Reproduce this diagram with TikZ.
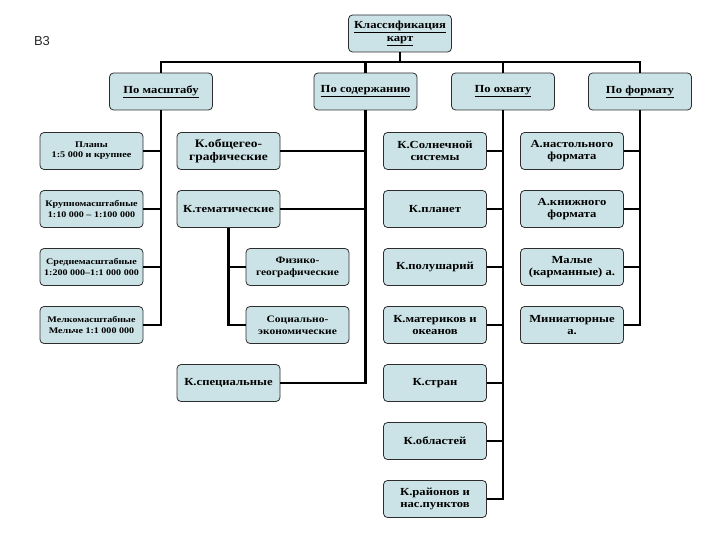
\documentclass[tikz,border=0pt]{standalone}
\usepackage{fontspec}
\setmainfont{Liberation Serif}[FakeStretch=1.17]
\newfontfamily\labfont{Liberation Sans}
\begin{document}
\begin{tikzpicture}[x=1pt,y=-1pt,
  box/.style={draw=boxline, fill=boxfill, rounded corners=4pt, line width=0.8pt,
    minimum width=103pt, minimum height=37pt, align=center, inner sep=1pt,
    font=\bfseries\fontsize{10.8}{12.5}\selectfont, text=black},
  conn/.style={line width=2.6pt, draw=black},
  small/.style={font=\bfseries\fontsize{8.7}{10}\selectfont},
  mid/.style={font=\bfseries\fontsize{8.6}{10.5}\selectfont},
  phys/.style={font=\bfseries\fontsize{9.8}{12}\selectfont},
  big/.style={font=\bfseries\fontsize{11.5}{13.5}\selectfont}]
\definecolor{boxfill}{RGB}{203,227,230}
\definecolor{boxline}{RGB}{45,45,45}
\useasboundingbox (0,0) rectangle (720,540);
\node[font=\labfont\fontsize{13}{15}\selectfont, text={rgb,255:red,40;green,40;blue,40}] (lab) at (42,41) {В3};
% level 1
\node[box] (top) at (400,33.5) {\underline{Классификация}\\\underline{карт}};
% level 2
\node[box] (m) at (161,91.5) {\underline{По масштабу}};
\node[box] (s) at (365.5,91.5) {\underline{По содержанию}};
\node[box] (o) at (503,91.5) {\underline{По охвату}};
\node[box] (f) at (640,91.5) {\underline{По формату}};
\coordinate (bus) at (400,62);
\draw[conn] (top.south) -- (top.south|-bus);
\draw[conn] (m.north) -- (m.north|-bus) -- (f.north|-bus) -- (f.north);
\draw[conn] (s.north) -- (s.north|-bus);
\draw[conn] (o.north) -- (o.north|-bus);
% left column
\node[box, small] (m1) at (91.5,151) {Планы\\1:5 000 и крупнее};
\node[box, mid] (m2) at (91.5,209) {Крупномасштабные\\1:10 000 – 1:100 000};
\node[box, mid] (m3) at (91.5,267) {Среднемасштабные\\1:200 000–1:1 000 000};
\node[box, mid] (m4) at (91.5,325) {Мелкомасштабные\\Мельче 1:1 000 000};
\draw[conn] (m.south) -- (m.south|-m4.east) -- (m4.east);
\draw[conn] (m1.east) -- (m1.east-|m.south);
\draw[conn] (m2.east) -- (m2.east-|m.south);
\draw[conn] (m3.east) -- (m3.east-|m.south);
% content column
\node[box, big] (c1) at (228.5,151) {К.общегео-\\графические};
\node[box] (c2) at (228.5,209) {К.тематические};
\node[box, phys] (c21) at (297.5,267) {Физико-\\географические};
\node[box, phys] (c22) at (297.5,325) {Социально-\\экономические};
\node[box] (c3) at (228.5,383) {К.специальные};
\draw[conn] (s.south) -- (s.south|-c3.east) -- (c3.east);
\draw[conn] (c1.east) -- (c1.east-|s.south);
\draw[conn] (c2.east) -- (c2.east-|s.south);
\draw[conn] (c2.south) -- (c2.south|-c22.west) -- (c22.west);
\draw[conn] (c21.west) -- (c21.west-|c2.south);
% coverage column
\node[box] (o1) at (435,151) {К.Солнечной\\системы};
\node[box] (o2) at (435,209) {К.планет};
\node[box] (o3) at (435,267) {К.полушарий};
\node[box] (o4) at (435,325) {К.материков и\\океанов};
\node[box] (o5) at (435,383) {К.стран};
\node[box] (o6) at (435,441) {К.областей};
\node[box] (o7) at (435,499) {К.районов и\\нас.пунктов};
\draw[conn] (o.south) -- (o.south|-o7.east) -- (o7.east);
\foreach \n in {o1,o2,o3,o4,o5,o6}{\draw[conn] (\n.east) -- (\n.east-|o.south);}
% format column
\node[box] (f1) at (572,151) {А.настольного\\формата};
\node[box] (f2) at (572,209) {А.книжного\\формата};
\node[box] (f3) at (572,267) {Малые\\(карманные) а.};
\node[box] (f4) at (572,325) {Миниатюрные\\а.};
\draw[conn] (f.south) -- (f.south|-f4.east) -- (f4.east);
\foreach \n in {f1,f2,f3}{\draw[conn] (\n.east) -- (\n.east-|f.south);}
\end{tikzpicture}
\end{document}
